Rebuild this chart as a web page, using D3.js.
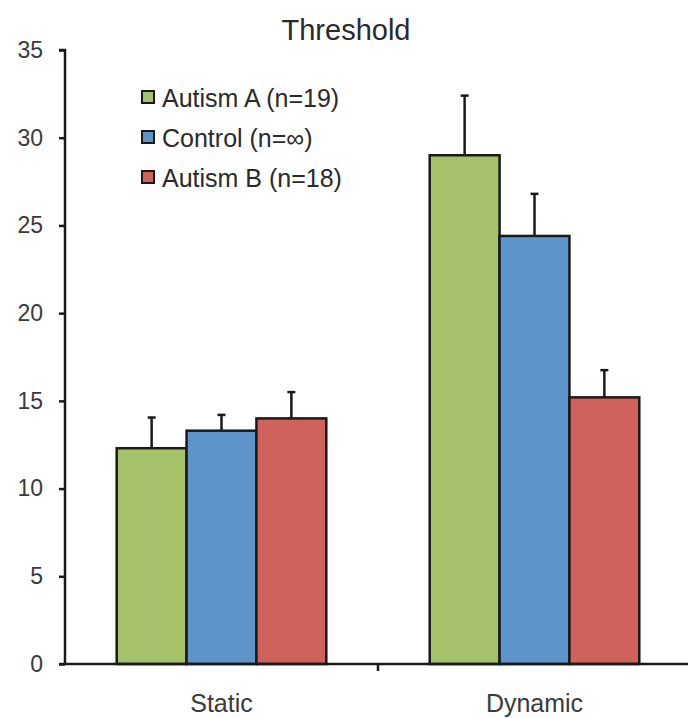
<!DOCTYPE html>
<html>
<head>
<meta charset="utf-8">
<script src="https://cdn.jsdelivr.net/npm/d3@7"></script>
<style>
  html, body { margin: 0; padding: 0; background: #fff; }
  svg { display: block; font-family: Arial, "Liberation Sans", sans-serif; }
</style>
</head>
<body>
<svg id="chart" width="688" height="718"></svg>
<script>
// Conditions along the x axis
const categories = ["Static", "Dynamic"];
// Groups and their legend labels
const groups = ["Autism A (n=19)", "Control (n=\u221e)", "Autism B (n=18)"];
const groupColors = ["#a5c26a", "#5f94cb", "#cf625c"];
// Mean threshold per group, one entry per condition
const autismA = [12.3, 29.0];
const control = [13.3, 24.4];
const autismB = [14.0, 15.2];
// Error bar sizes (upper)
const autismAErr = [1.75, 3.4];
const controlErr = [0.9, 2.4];
const autismBErr = [1.5, 1.55];
const yTicks = [0, 5, 10, 15, 20, 25, 30, 35];

const seriesValues = [autismA, control, autismB];
const seriesErrors = [autismAErr, controlErr, autismBErr];

const svg = d3.select("#chart");
const margin = { left: 65, right: -3, top: 50, bottom: 54 };
const W = 688, H = 718;

const x0 = d3.scaleBand()
  .domain(categories)
  .range([margin.left, W - margin.right])
  .paddingInner(0)
  .paddingOuter(0);
const x1 = d3.scaleBand()
  .domain(d3.range(groups.length))
  .range([0, x0.bandwidth()])
  .paddingInner(0)
  .paddingOuter(0.74);
const y = d3.scaleLinear().domain([0, 35]).range([H - margin.bottom, margin.top]);

// Bars with upper error bars
categories.forEach((cat, ci) => {
  groups.forEach((g, gi) => {
    const v = seriesValues[gi][ci];
    const e = seriesErrors[gi][ci];
    const bx = x0(cat) + x1(gi);
    const cx = bx + x1.bandwidth() / 2;
    svg.append("line")
      .attr("x1", cx).attr("x2", cx)
      .attr("y1", y(v)).attr("y2", y(v + e))
      .attr("stroke", "#1a1a1a").attr("stroke-width", 2.5);
    svg.append("line")
      .attr("x1", cx - 4).attr("x2", cx + 4)
      .attr("y1", y(v + e)).attr("y2", y(v + e))
      .attr("stroke", "#1a1a1a").attr("stroke-width", 2.5);
    svg.append("rect")
      .attr("x", bx).attr("y", y(v))
      .attr("width", x1.bandwidth()).attr("height", y(0) - y(v))
      .attr("fill", groupColors[gi])
      .attr("stroke", "#1a1a1a").attr("stroke-width", 2.5);
  });
});

// Y axis
const yAxis = svg.append("g")
  .attr("transform", `translate(${margin.left},0)`)
  .call(d3.axisLeft(y).tickValues(yTicks).tickSize(6).tickPadding(16));
yAxis.select(".domain").attr("stroke", "#1a1a1a").attr("stroke-width", 2.5)
  .attr("d", `M-6,${y(35)}H0V${y(0)}`);
yAxis.selectAll(".tick line").attr("stroke", "#1a1a1a").attr("stroke-width", 2.5);
yAxis.selectAll(".tick text").attr("fill", "#3a3a3a").style("font-size", "23px");

// X axis
const xAxis = svg.append("g")
  .attr("transform", `translate(0,${y(0)})`)
  .call(d3.axisBottom(x0).tickSize(0).tickPadding(30));
xAxis.select(".domain").attr("stroke", "#1a1a1a").attr("stroke-width", 2.5)
  .attr("d", `M${margin.left - 6},0H${W + 10}`);
xAxis.selectAll(".tick text").attr("fill", "#3a3a3a").style("font-size", "25px");
// Divider tick between the two conditions
svg.append("line")
  .attr("x1", x0("Dynamic")).attr("x2", x0("Dynamic"))
  .attr("y1", y(0)).attr("y2", y(0) + 7)
  .attr("stroke", "#1a1a1a").attr("stroke-width", 2.5);

// Title
svg.append("text")
  .attr("x", 346).attr("y", 40)
  .attr("text-anchor", "middle")
  .attr("fill", "#2a2a2a")
  .style("font-size", "29px")
  .text("Threshold");

// Legend
const legend = svg.append("g").attr("transform", "translate(142,91)");
groups.forEach((g, gi) => {
  const row = legend.append("g").attr("transform", `translate(0,${gi * 40})`);
  row.append("rect")
    .attr("x", 0).attr("y", 0).attr("width", 12).attr("height", 12)
    .attr("fill", groupColors[gi]).attr("stroke", "#1a1a1a").attr("stroke-width", 2);
  row.append("text")
    .attr("x", 20).attr("y", 16)
    .attr("fill", "#2a2a2a")
    .style("font-size", "25px")
    .text(g);
});
</script>
</body>
</html>
